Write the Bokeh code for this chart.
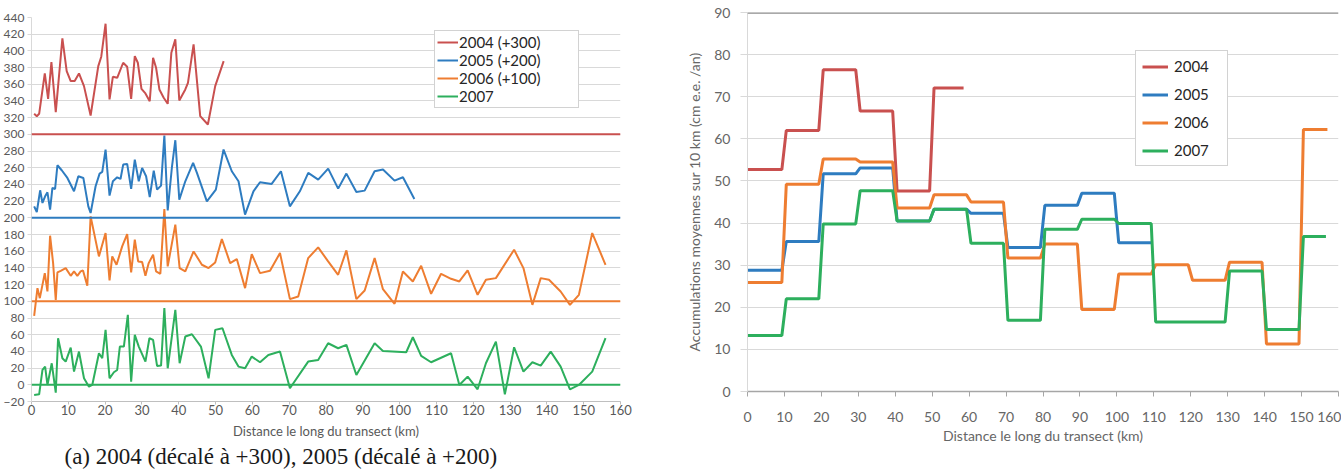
from bokeh.plotting import figure
from bokeh.layouts import row
from bokeh.models import Range1d, Legend, LegendItem, Span, Title, FixedTicker
from bokeh.embed import file_html
from bokeh.resources import INLINE

# ---------------------------------------------------------------------------
# Data
# ---------------------------------------------------------------------------
YEARS = ["2004", "2005", "2006", "2007"]
COLORS = ["#C9504F", "#2E7CC0", "#EE7D31", "#2DAF5D"]
OFFSETS = [300, 200, 100, 0]          # vertical shift of each year in panel (a)

# Panel (a): accumulation along the transect (km, cm w.e./yr)
km_2004 = [0.72, 1.44, 2.08, 3.61, 4.51, 5.41, 6.59, 8.39, 9.56, 10.65, 11.73, 12.9,
           14.26, 16.06, 18.14, 18.95, 20.12, 21.2, 22.1, 23.28, 24.9, 25.99, 27.07,
           28.06, 28.88, 29.87, 30.95, 32.12, 33.03, 33.84, 34.74, 35.91, 37.0, 37.99,
           39.07, 40.15, 41.78, 42.5, 44.03, 45.83, 47.91, 49.9, 52.2]
acc_2004 = [24.6, 21.8, 24.6, 73.0, 42.6, 86.6, 26.6, 115.0, 75.8, 63.8, 64.0, 73.0,
            57.8, 22.6, 81.8, 93.0, 132.6, 41.8, 69.0, 67.8, 85.8, 81.0, 42.6,
            93.8, 85.8, 54.6, 49.0, 39.8, 91.8, 79.8, 53.8, 43.8, 36.6, 97.8,
            113.8, 40.6, 53.8, 61.8, 107.8, 21.8, 11.8, 57.8, 87.8]

km_2005 = [0.72, 1.44, 2.35, 2.98, 3.70, 4.33, 5.05, 5.68, 6.41, 7.04, 8.21, 9.75,
           11.55, 12.72, 14.08, 15.43, 16.06, 17.41, 18.50, 19.22, 20.12, 21.20, 22.11,
           23.28, 24.18, 24.91, 25.99, 27.07, 28.06, 29.14, 30.05, 31.13, 32.12, 33.21,
           34.11, 35.19, 36.09, 37.0, 38.17, 39.07, 40.15, 41.78, 43.9, 44.94, 47.64,
           50.08, 52.17, 54.41, 56.23, 58.01, 60.29, 62.07, 65.24, 67.76, 70.19, 72.9,
           75.18, 77.88, 80.59, 83.3, 85.54, 88.25, 90.5, 93.2, 95.48, 98.62, 100.9, 104.0]
acc_2005 = [13.8, 7.0, 33.0, 17.8, 25.8, 30.6, 9.8, 35.8, 34.6, 63.0, 57.0, 47.8,
            31.8, 49.8, 47.8, 13.8, 5.8, 37.8, 53.0, 55.0, 81.8, 26.6, 43.8,
            48.6, 46.6, 63.8, 64.6, 34.6, 69.8, 43.8, 59.8, 49.8, 25.0, 56.6,
            33.8, 38.6, 98.6, 9.0, 61.8, 93.0, 21.8, 43.8, 65.8, 53.8, 19.8,
            33.8, 81.8, 55.8, 43.8, 3.8, 31.8, 42.6, 40.6, 55.8, 13.8, 31.8,
            53.8, 45.8, 59.0, 35.0, 53.0, 31.0, 32.6, 55.8, 57.8, 44.6, 48.6, 22.6]

km_2006 = [0.72, 1.62, 2.26, 3.61, 4.33, 5.05, 5.87, 6.59, 7.04, 7.94, 9.29, 10.65,
           11.55, 12.45, 13.35, 13.99, 15.16, 16.06, 18.32, 20.12, 21.2, 21.93, 23.1,
           24.63, 25.99, 27.07, 28.06, 28.97, 30.05, 30.95, 31.84, 33.03, 33.84, 35.0,
           36.09, 37.0, 39.07, 40.24, 41.78, 44.03, 46.29, 48.1, 49.9, 51.71, 53.96,
           55.77, 58.02, 59.83, 62.08, 64.79, 67.5, 70.2, 72.46, 75.16, 77.87, 80.58,
           83.29, 85.54, 88.25, 90.51, 93.21, 95.47, 98.63, 100.89, 103.59, 105.85,
           108.55, 111.26, 113.97, 116.22, 118.48, 121.18, 123.44, 126.15, 131.1,
           133.63, 136.07, 138.33, 140.58, 143.74, 146.27, 148.7, 152.32, 155.93]
acc_2006 = [-17.4, 15.8, 3.8, 33.8, 11.8, 78.6, 45.8, 1.8, 34.6, 36.6, 39.8, 30.6,
            35.8, 30.6, 35.8, 37.0, 18.6, 101.8, 53.8, 81.8, 25.0, 53.8, 43.8,
            65.8, 80.6, 34.6, 73.8, 47.8, 47.0, 30.6, 45.8, 55.8, 35.8, 33.0,
            110.6, 41.8, 91.8, 39.8, 35.8, 59.8, 43.8, 39.8, 46.6, 74.6, 45.8,
            50.6, 15.8, 56.6, 33.8, 36.6, 57.8, 2.6, 5.8, 51.8, 64.6, 47.8,
            31.8, 61.0, 2.6, 13.0, 51.8, 14.6, -3.0, 35.8, 23.8, 42.6,
            9.0, 33.0, 27.0, 23.8, 37.0, 7.8, 25.8, 27.8, 61.8,
            39.8, -4.2, 27.8, 25.8, 11.8, -4.2, 7.8, 81.8, 43.8]

km_2007 = [0.72, 2.08, 2.98, 3.7, 4.33, 5.5, 6.59, 7.22, 8.39, 9.29, 10.65, 11.55,
           12.9, 14.26, 15.61, 16.51, 18.32, 19.22, 20.12, 21.2, 22.38, 23.28, 24.0,
           25.09, 26.17, 27.07, 28.06, 29.14, 30.95, 32.03, 33.03, 34.11, 35.19, 36.09,
           37.0, 39.07, 40.24, 41.78, 43.58, 46.02, 48.1, 49.9, 51.88, 54.41, 56.22,
           58.02, 59.83, 62.08, 64.34, 67.5, 70.2, 75.16, 77.87, 80.58, 83.29, 85.54,
           88.25, 93.21, 95.47, 101.79, 103.59, 105.85, 108.55, 113.97, 116.22, 118.48,
           121.18, 123.44, 126.15, 128.59, 131.1, 133.63, 136.07, 138.33, 141.04,
           143.74, 146.27, 148.7, 152.32, 155.93]
acc_2007 = [-12.2, -11.4, 17.8, 21.8, -0.2, 25.8, -9.4, 55.8, 31.8, 27.8, 44.6, 15.8,
            39.8, 7.8, -2.2, -0.2, 37.8, 31.8, 65.8, 7.8, 15.0, 17.8, 45.8,
            45.8, 83.8, 3.8, 59.8, 45.8, 27.8, 55.8, 53.8, 22.6, 23.0, 91.8,
            19.8, 89.8, 25.8, 57.8, 60.6, 45.8, 7.8, 65.8, 67.8, 35.8, 21.8,
            19.8, 33.8, 27.0, 35.8, 39.8, -4.2, 27.8, 29.8, 49.8, 43.8, 47.8,
            11.8, 49.8, 40.6, 39.0, 57.0, 34.6, 27.0, 37.8, -0.2, 9.8,
            -5.4, 25.8, 51.8, -11.4, 45.0, 15.8, 27.0, 23.0, 39.8,
            21.8, -5.4, -0.2, 15.8, 55.8]

# Panel (b): mean accumulation over successive 10 km sections
mean10_2004 = [52.7, 62.0, 76.4, 66.6, 47.6, 72.1]
mean10_2005 = [28.8, 35.6, 51.7, 53.1, 40.5, 43.3, 42.3, 34.2, 44.2, 47.1, 35.3]
mean10_2006 = [25.9, 49.2, 55.2, 54.5, 43.6, 46.7, 45.0, 31.7, 35.0, 19.5, 27.9,
               30.1, 26.4, 30.7, 11.3, 62.2]
mean10_2007 = [13.3, 22.0, 39.8, 47.7, 40.5, 43.3, 35.2, 16.9, 38.5, 40.9, 39.9,
               16.5, 16.5, 28.6, 14.7, 36.8]
end_km = [58.5, 109.6, 157.0, 156.6]   # last km surveyed each year

x_ticks = list(range(0, 161, 10))
left_y_ticks = list(range(-20, 441, 20))
right_y_ticks = list(range(0, 91, 10))

profiles = [(km_2004, acc_2004), (km_2005, acc_2005), (km_2006, acc_2006), (km_2007, acc_2007)]
means = [mean10_2004, mean10_2005, mean10_2006, mean10_2007]

FONT = "Lato"
TXT = "#595959"
GRID = "#D9D9D9"


def section_steps(vals, last_km, width=10.0):
    """Flat segment for each 10 km section, short ramps between sections."""
    xs, ys = [], []
    for i, v in enumerate(vals):
        a = 0.0 if i == 0 else width * i + 0.5
        b = min(width * i + 9.3, last_km)
        xs += [a, b]
        ys += [v, v]
    return xs, ys


def style_axis(ax, size, color=TXT):
    ax.major_label_text_font = FONT
    ax.major_label_text_font_size = size
    ax.major_label_text_color = color
    ax.axis_label_text_font = FONT
    ax.axis_label_text_font_size = size
    ax.axis_label_text_font_style = "normal"
    ax.axis_label_text_color = color
    ax.minor_tick_line_color = None
    ax.major_tick_in = 0


# ---------------------------------------------------------------------------
# (a) shifted profiles
# ---------------------------------------------------------------------------
p1 = figure(width=669, height=469, x_range=Range1d(0, 160), y_range=Range1d(-20, 440),
            output_backend="svg", toolbar_location=None, title_location=None,
            min_border_left=29, min_border_right=49, min_border_top=17, min_border_bottom=68)
p1.frame_align = False
p1.outline_line_color = None
p1.background_fill_color = "white"
p1.xgrid.grid_line_color = None
p1.yaxis.ticker = FixedTicker(ticks=left_y_ticks)
p1.xaxis.ticker = FixedTicker(ticks=x_ticks)
p1.ygrid.grid_line_color = GRID
p1.ygrid.grid_line_width = 1

ya = p1.yaxis[0]
style_axis(ya, "12px")
ya.axis_line_color = GRID
ya.major_tick_line_color = GRID
ya.major_tick_out = 4
ya.major_label_standoff = 3

xa = p1.xaxis[0]
style_axis(xa, "13px")
xa.axis_line_color = "#BFBFBF"
xa.major_tick_line_color = "#BFBFBF"
xa.major_tick_out = 3
xa.major_label_standoff = 0
xa.axis_label = "Distance le long du transect (km)"
xa.axis_label_standoff = 5

items1 = []
for (km, acc), year, col, off in zip(profiles, YEARS, COLORS, OFFSETS):
    p1.add_layout(Span(location=off, dimension="width", line_color=col, line_width=2))
    r = p1.line(km, [v + off for v in acc], line_color=col, line_width=2)
    items1.append(LegendItem(label=f"{year} (+{off})" if off else year, renderers=[r]))

leg1 = Legend(items=items1, location=(403, 293), margin=0, padding=2, spacing=0,
              glyph_width=21, glyph_height=16, label_height=16, label_width=117,
              label_standoff=1, label_text_font=FONT, label_text_font_size="15px",
              label_text_color="#262626", border_line_color="#A6A6A6", border_line_width=1,
              background_fill_color="white", background_fill_alpha=1.0)
p1.add_layout(leg1)

p1.add_layout(Title(text="(a) 2004 (décalé à +300), 2005 (décalé à +200)",
                    text_font="Liberation Serif", text_font_size="23px",
                    text_font_style="normal", text_color="#1a1a1a",
                    align="left", offset=33, standoff=0), "below")

# ---------------------------------------------------------------------------
# (b) 10 km section means
# ---------------------------------------------------------------------------
p2 = figure(width=672, height=469, x_range=Range1d(0, 160), y_range=Range1d(0, 90),
            output_backend="svg", toolbar_location=None, title_location=None,
            min_border_left=78, min_border_right=3, min_border_top=12, min_border_bottom=78)
p2.frame_align = False
p2.outline_line_color = None
p2.xgrid.grid_line_color = None
p2.yaxis.ticker = FixedTicker(ticks=right_y_ticks)
p2.xaxis.ticker = FixedTicker(ticks=x_ticks)
p2.ygrid.grid_line_color = GRID

ya2 = p2.yaxis[0]
style_axis(ya2, "14px", "#666666")
ya2.axis_line_color = GRID
ya2.major_tick_line_color = GRID
ya2.major_tick_out = 7
ya2.major_label_standoff = 10
ya2.axis_label = "Accumulations moyennes sur 10 km (cm e.e. /an)"
ya2.axis_label_standoff = 8

xa2 = p2.xaxis[0]
style_axis(xa2, "14px", "#666666")
xa2.axis_line_color = "#A6A6A6"
xa2.axis_line_width = 1.5
xa2.major_tick_line_color = "#A6A6A6"
xa2.major_tick_out = 5
xa2.major_label_standoff = 15
xa2.axis_label = "Distance le long du transect (km)"
xa2.axis_label_standoff = 2

p2.add_layout(Span(location=right_y_ticks[-1], dimension="width",
                   line_color="#8C8C8C", line_width=2.5))

items2 = []
for vals, last, year, col in zip(means, end_km, YEARS, COLORS):
    xs, ys = section_steps(vals, last)
    r = p2.line(xs, ys, line_color=col, line_width=3)
    items2.append(LegendItem(label=year, renderers=[r]))

leg2 = Legend(items=items2, location=(388, 225), margin=0, padding=6, spacing=10,
              glyph_width=26, glyph_height=17, label_height=17, label_width=47,
              label_standoff=6, label_text_font=FONT, label_text_font_size="15px",
              label_text_color="#262626", border_line_color="#A6A6A6", border_line_width=1,
              background_fill_color="white", background_fill_alpha=1.0)
p2.add_layout(leg2)

layout = row(p1, p2, spacing=0)
open("out.html", "w").write(file_html(layout, INLINE))
